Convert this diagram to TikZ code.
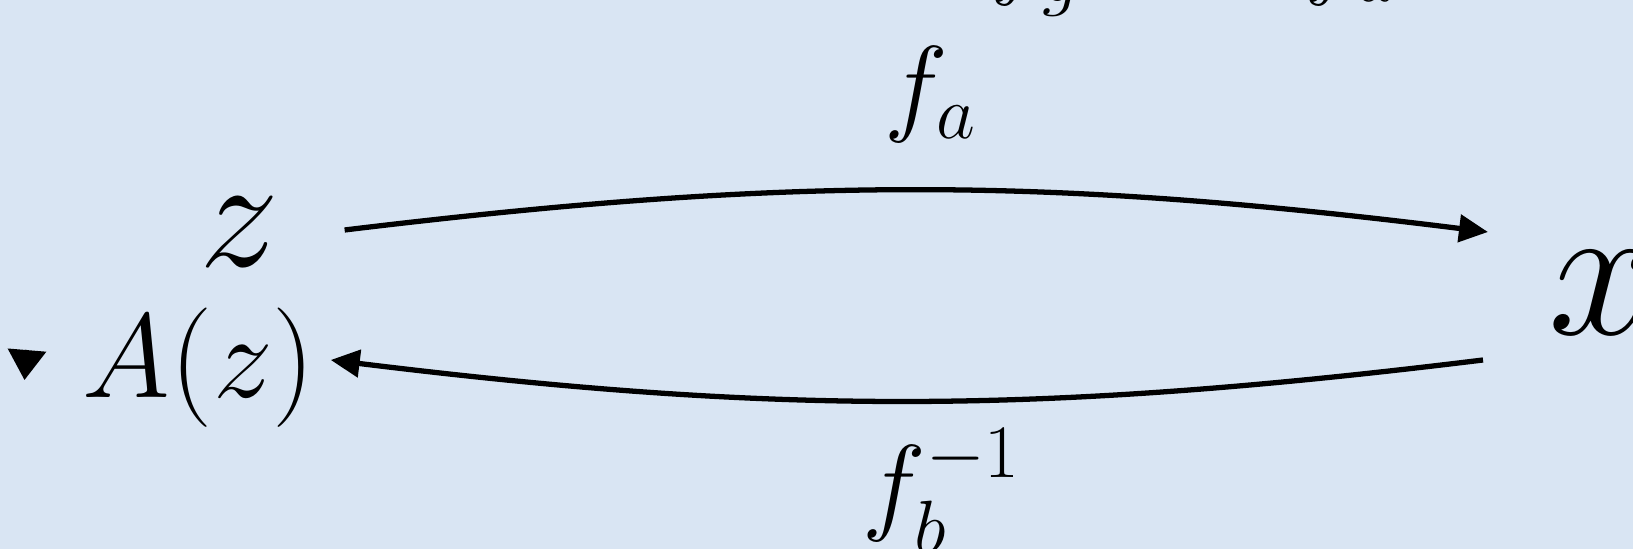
\RequirePackage{fix-cm}
\documentclass[tikz,border=0pt]{standalone}
\usepackage{amsmath, amssymb}
\usepackage{tikz}
\usetikzlibrary{arrows.meta}
\definecolor{slideblue}{HTML}{D9E5F3}
\definecolor{inkblack}{HTML}{000000}

\begin{document}
\begin{tikzpicture}[
    maplabel/.style={inner sep=0pt, anchor=base, font=\fontsize{30.7}{36}\selectfont},
    flow/.style={draw=inkblack, line width=1.5pt, -{Triangle[length=2.9mm, width=2.7mm]}}
  ]
  \fill[slideblue] (0,0) rectangle (16.33,5.49);
  \useasboundingbox (0,0) rectangle (16.33,5.49);

  % spaces
  \node[inner sep=0pt, anchor=base, font=\fontsize{45.5}{52}\selectfont] (z) at (2.39,2.82) {$z$};
  \node[inner sep=0pt, anchor=base, font=\fontsize{34}{40}\selectfont] (Az) at (1.99,1.51) {$A(z)$};
  \node[inner sep=0pt, anchor=base west, font=\fontsize{54.9}{60}\selectfont] (x) at (15.48,2.14) {$x$};

  % maps
  \node[maplabel] (fa) at (9.31,4.27) {$f_a$};
  \node[maplabel] (fbinv) at (9.42,0.28) {$f_b^{-1}$};
  \node[maplabel, anchor=base west] (ftop) at (9.90,5.64) {$f_g \;\approx\;\, f_a$};

  \draw[flow] ([xshift=0.65cm, yshift=0.37cm]z.base east) to[bend left=7] ([xshift=-0.6cm, yshift=1.03cm]x.base west);
  \draw[flow] ([xshift=-0.65cm, yshift=-0.25cm]x.base west) to[bend left=7] ([xshift=0.15cm, yshift=0.38cm]Az.base east);

  % stray arrow tip at the left edge
  \coordinate (tipfrom) at (0.27,1.99);
  \coordinate (tipto) at (0.245,1.69);
  \draw[draw=inkblack, line width=1pt, -{Triangle[length=3mm, width=3.8mm]}] (tipfrom) -- (tipto);
\end{tikzpicture}
\end{document}
